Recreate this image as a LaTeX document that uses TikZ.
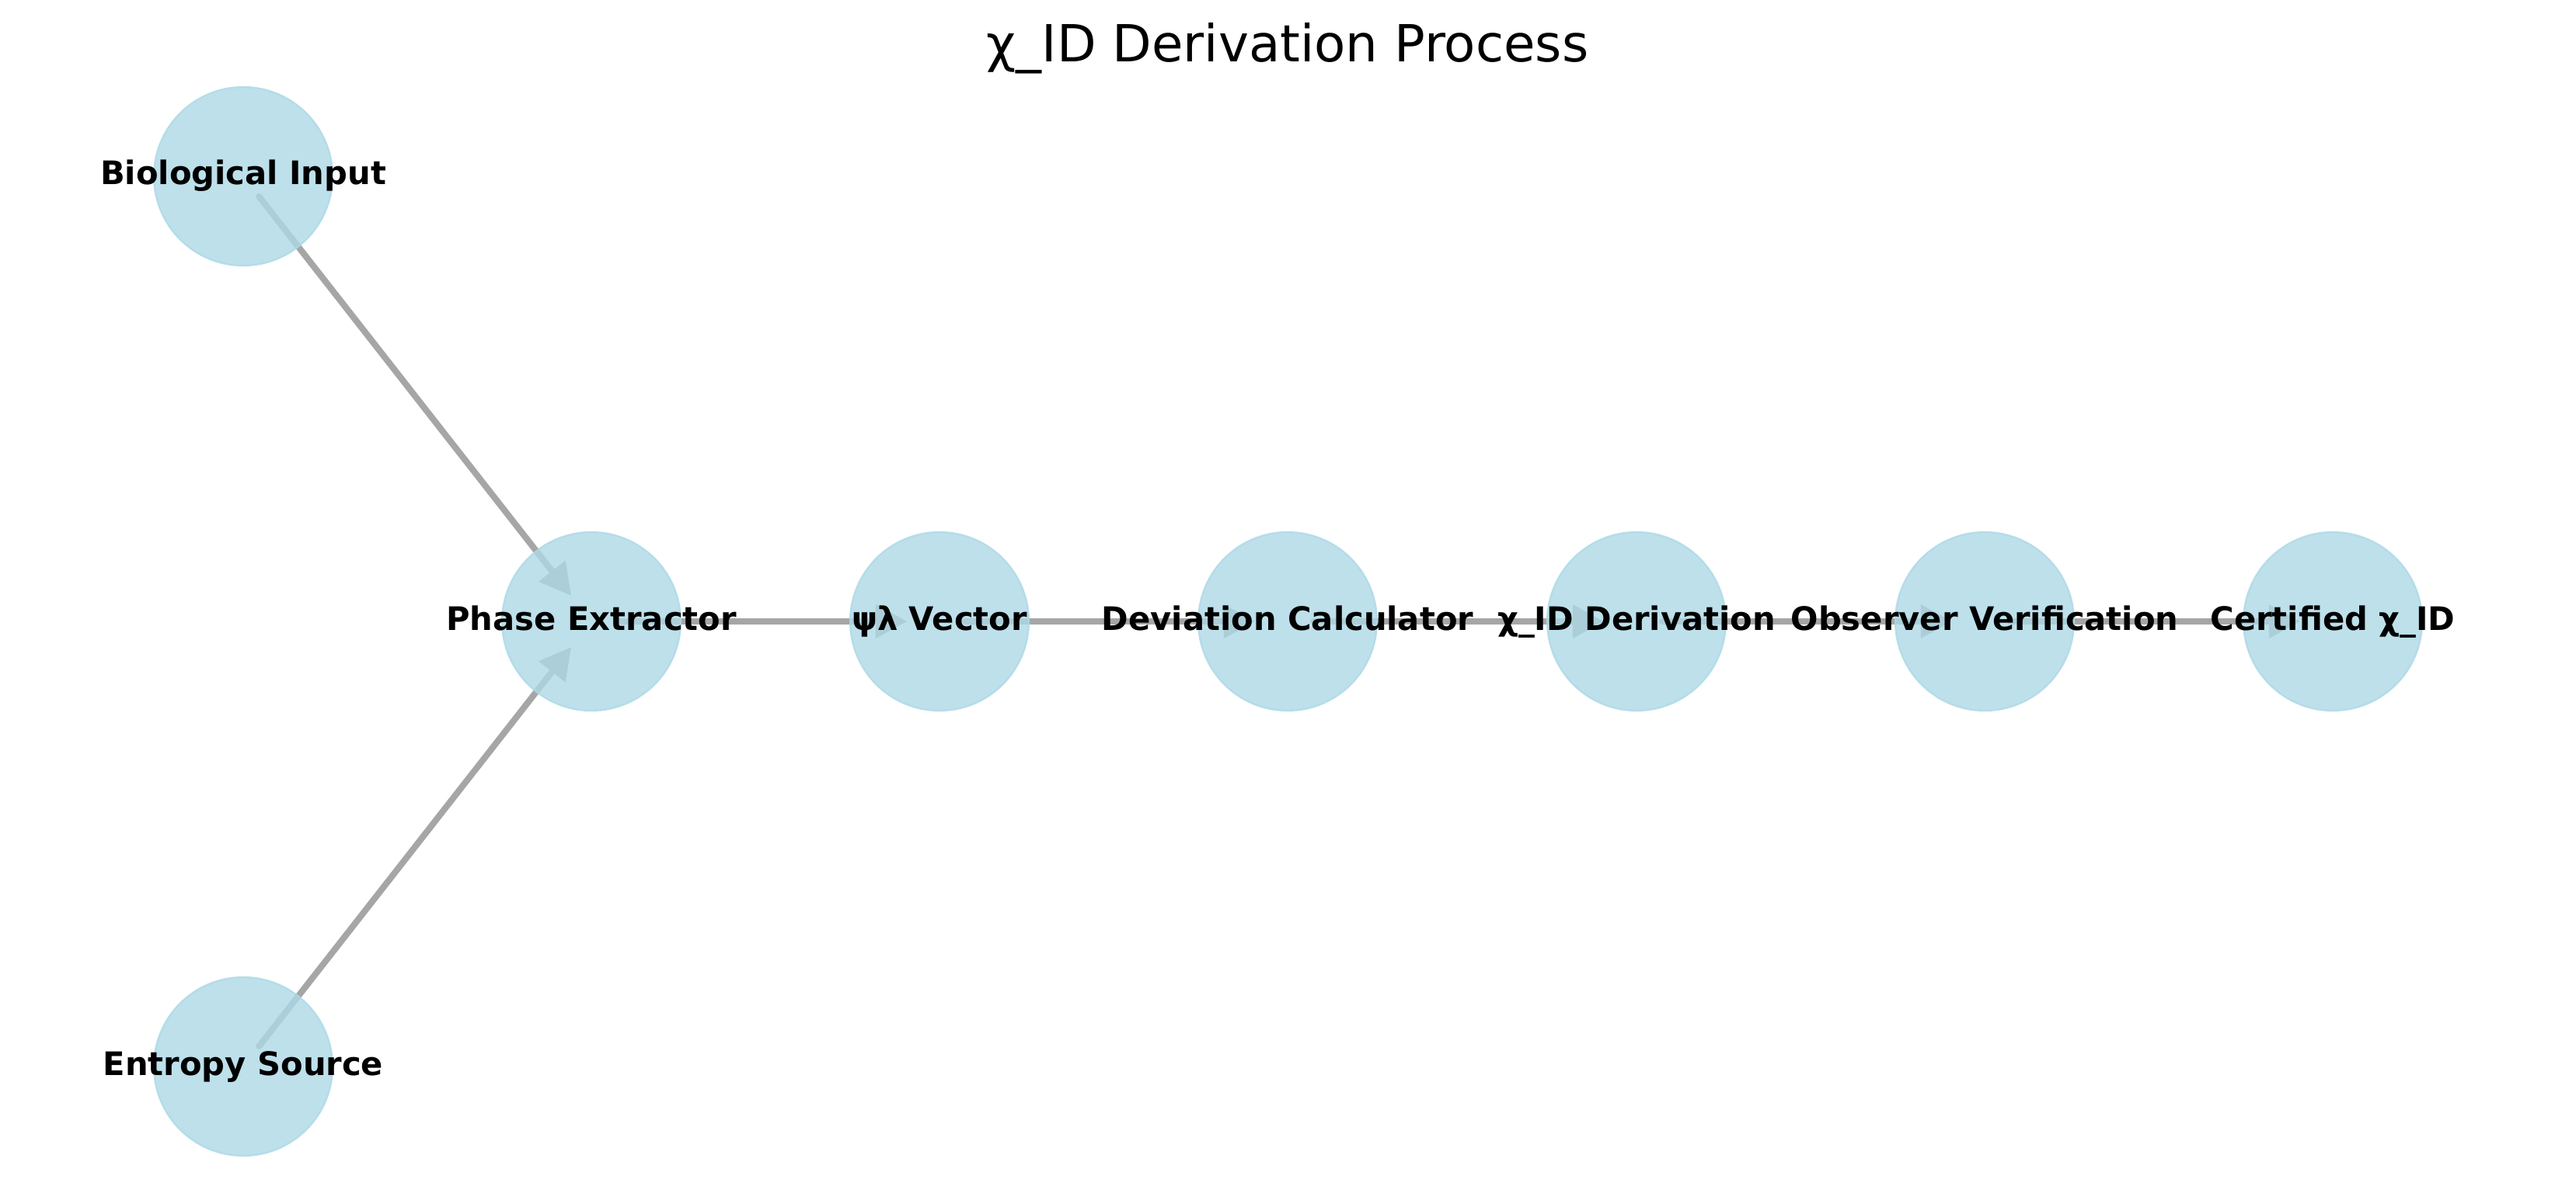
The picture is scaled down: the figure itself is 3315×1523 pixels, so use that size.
\documentclass[tikz,border=0pt]{standalone}
\usepackage{fontspec}
\setmainfont{DejaVu Sans}
\usetikzlibrary{arrows.meta,calc}
\pgfdeclarelayer{background}
\pgfsetlayers{background,main}
\definecolor{nodeblue}{RGB}{173,216,230}
\definecolor{edgegray}{RGB}{166,166,166}
\tikzset{
  circ/.style={circle,minimum size=230*0.36pt,inner sep=0pt,fill=nodeblue,fill opacity=0.8,draw=nodeblue,draw opacity=0.8,line width=0.8pt},
  lbl/.style={font=\bfseries\fontsize{15}{18}\selectfont,text=black,inner sep=0pt,anchor=base},
  edge/.style={draw=edgegray,line width=2.9pt,line cap=round,-{Triangle[length=14.5pt,width=15pt]}}
}
\begin{document}
\begin{tikzpicture}[x=0.36pt,y=-0.36pt]
\useasboundingbox (0,0) rectangle (3315,1523);
\node[font=\fontsize{23.7}{28}\selectfont,anchor=base] (title) at (1657,80) {χ\_ID Derivation Process};
\node[circ] (bio) at (313,227) {};
\node[circ] (ent) at (313,1373) {};
\node[circ] (ph) at (761,800) {};
\node[circ] (psi) at (1209,800) {};
\node[circ] (dev) at (1657,800) {};
\node[circ] (der) at (2106,800) {};
\node[circ] (obs) at (2554,800) {};
\node[circ] (cert) at (3002,800) {};
\node[lbl] at ($(bio)+(0,11)$) {Biological Input};
\node[lbl] at ($(ent)+(0,11)$) {Entropy Source};
\node[lbl] at ($(ph)+(0,11)$) {Phase Extractor};
\node[lbl] at ($(psi)+(0,11)$) {ψλ Vector};
\node[lbl] at ($(dev)+(0,11)$) {Deviation Calculator};
\node[lbl] at ($(der)+(0,11)$) {χ\_ID Derivation};
\node[lbl] at ($(obs)+(0,11)$) {Observer Verification};
\node[lbl] at ($(cert)+(0,11)$) {Certified χ\_ID};
\begin{pgfonlayer}{background}
\foreach \a/\b in {bio/ph,ent/ph,ph/psi,psi/dev,dev/der,der/obs,obs/cert}{
  \draw[edge] ($(\a.center)!11.9pt!(\b.center)$) -- ($(\b.center)!15.1pt!(\a.center)$);
}
\end{pgfonlayer}
\end{tikzpicture}
\end{document}
